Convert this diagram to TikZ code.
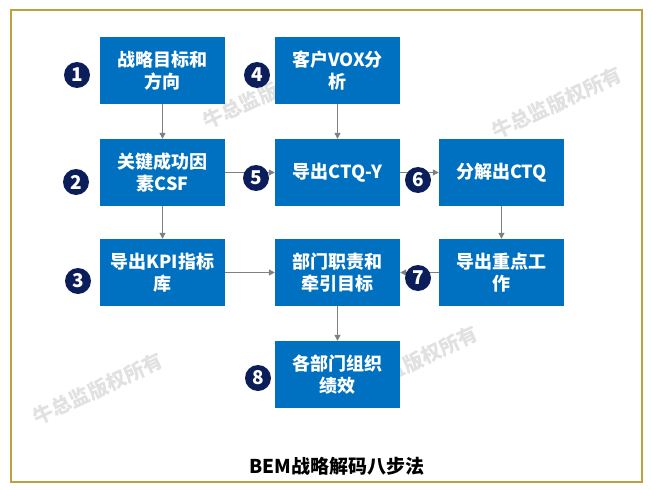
\documentclass[tikz,border=0pt]{standalone}
\usepackage{fontspec}
\setmainfont{Noto Sans CJK SC}
\usetikzlibrary{arrows.meta}
\definecolor{boxblue}{RGB}{0,112,192}
\definecolor{navydot}{RGB}{12,30,90}
\definecolor{framegold}{RGB}{191,160,64}
\definecolor{arrowgray}{RGB}{128,128,128}
\definecolor{wmgray}{RGB}{225,225,225}
\begin{document}
\begin{tikzpicture}[x=1pt,y=-1pt,
  stepbox/.style={fill=boxblue, minimum width=125pt, minimum height=67pt, inner sep=0pt,
    text=white, font=\bfseries\fontsize{18}{22}\selectfont, align=center},
  numdot/.style={circle, fill=navydot, minimum size=26pt, inner sep=0pt,
    text=white, font=\bfseries\fontsize{19}{19}\selectfont},
  flow/.style={draw=arrowgray, line width=1.1pt, -{Triangle[width=6pt,length=6pt]}},
  wm/.style={text=wmgray, font=\bfseries\fontsize{20}{20}\selectfont, rotate=25, inner sep=0pt}
]
\useasboundingbox (0,0) rectangle (651,490);
\fill[white] (0,0) rectangle (651,490);
\draw[framegold, line width=2pt] (10.5,9.5) rectangle (641.5,481.5);

% watermarks
\node[wm] (w1) at (268,93) {牛总监版权所有};
\node[wm] (w2) at (557,103) {牛总监版权所有};
\node[wm] (w3) at (98,389) {牛总监版权所有};
\node[wm] (w4) at (413,362) {牛总监版权所有};

% boxes
\node[stepbox] (s1) at (162.5,70.5) {战略目标和\\方向};
\node[stepbox] (s4) at (337.5,70.5) {客户VOX分\\析};
\node[stepbox] (s2) at (162.5,172.5) {关键成功因\\素CSF};
\node[stepbox] (s5) at (337.5,172.5) {导出CTQ-Y};
\node[stepbox] (s6) at (501.5,172.5) {分解出CTQ};
\node[stepbox] (s3) at (162.5,272.5) {导出KPI指标\\库};
\node[stepbox] (s7) at (337.5,272.5) {部门职责和\\牵引目标};
\node[stepbox] (sw) at (501.5,272.5) {导出重点工\\作};
\node[stepbox] (s8) at (337.5,374.5) {各部门组织\\绩效};

% connectors
\draw[flow] (s1) -- (s2);
\draw[flow] (s4) -- (s5);
\draw[flow] (s2) -- (s3);
\draw[flow] (s2) -- (s5);
\draw[flow] (s5) -- (s6);
\draw[flow] (s6) -- (sw);
\draw[flow] (s3) -- (s7);
\draw[flow] (sw) -- (s7);
\draw[flow] (s7) -- (s8);

% step numbers
\node[numdot] (n1) at (77,75) {1};
\node[numdot] (n2) at (76,182) {2};
\node[numdot] (n3) at (78,281) {3};
\node[numdot] (n4) at (257,75) {4};
\node[numdot] (n5) at (256,178) {5};
\node[numdot] (n6) at (418,180) {6};
\node[numdot] (n7) at (418,278) {7};
\node[numdot] (n8) at (258,378) {8};

% title
\node[font=\bfseries\fontsize{19}{19}\selectfont, text=black] (title) at (337,466) {BEM战略解码八步法};
\end{tikzpicture}
\end{document}
